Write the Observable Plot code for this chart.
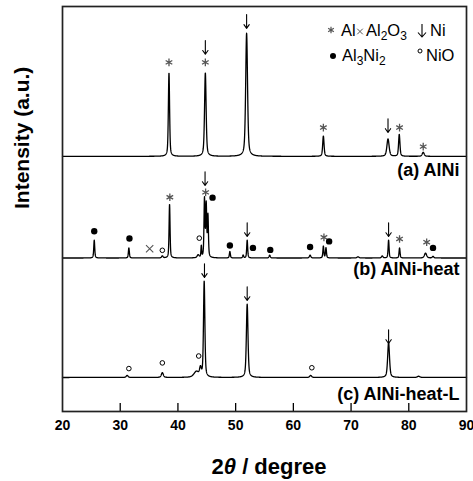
<!DOCTYPE html>
<html><head><meta charset="utf-8">
<script src="https://cdn.jsdelivr.net/npm/d3@7"></script>
<script src="https://cdn.jsdelivr.net/npm/@observablehq/plot@0.6"></script>
<style>
body{margin:0;background:#fff;}
svg text{font-family:"Liberation Sans",Arial,sans-serif;}
</style></head><body><div id="chart"></div>
<script>
// x ticks (2θ, degree)
const tickValues = [20, 30, 40, 50, 60, 70, 80, 90];
// pattern names, label levels and baselines (arbitrary intensity units)
const patternNames = ["(a) AlNi", "(b) AlNi-heat", "(c) AlNi-heat-L"];
const labelLevels = [59.5, 35.1, 4.2];
const baselines = [63.0, 37.9, 8.4];
// peaks: [2θ, height, FWHM]
const peaksA = [[38.45,20.6,0.25],[44.75,20.6,0.32],[51.9,30.4,0.38],[65.2,5.0,0.28],[76.4,4.3,0.45],[78.35,5.4,0.28],[82.5,1.0,0.4]];
const peaksB = [[25.5,4.4,0.2],[31.5,2.5,0.2],[37.3,0.5,0.3],[38.55,13.3,0.2],[43.5,0.7,0.4],[44.05,2.8,0.15],[44.6,14.3,0.2],[44.9,12.8,0.2],[45.2,10.2,0.2],[49.0,1.6,0.2],[51.3,0.7,0.2],[52.0,4.4,0.2],[55.9,0.7,0.25],[62.9,0.7,0.3],[65.2,2.9,0.2],[65.65,2.5,0.2],[71.2,0.3,0.4],[75.4,0.5,0.3],[76.5,4.4,0.2],[78.4,2.5,0.2],[82.9,1.2,0.45],[84.2,0.4,0.3]];
const peaksC = [[31.2,0.5,0.4],[37.3,1.2,0.4],[43.2,1.4,1.0],[43.9,2.0,0.35],[44.55,23.7,0.28],[52.0,18.1,0.33],[63.0,0.5,0.4],[76.5,8.6,0.38],[81.7,0.3,0.5]];
const peakSets = [peaksA, peaksB, peaksC];
// phase markers: [2θ, level]
const alMarks = [[38.45,86.2],[44.75,86.2],[65.2,70.1],[78.4,70.1],[82.5,65.4],
                 [38.6,52.9],[44.8,54.1],[65.3,43.0],[78.4,42.6],[83.1,41.8]];
const al2o3Marks = [[35.1,40.2]];
const niMarks = [[44.75,89.9],[51.9,96.3],[76.4,70.6],
                 [44.7,57.5],[52.0,44.9],[76.5,44.9],
                 [44.6,34.8],[52.0,29.1],[76.5,18.5]];
const al3ni2Marks = [[25.5,44.5],[31.6,42.7],[46.0,52.8],[49.0,41.0],[53.0,40.4],[56.0,39.9],[62.9,40.6],[66.2,42.0],[84.2,40.4]];
const nioMarks = [[37.3,39.8],[43.7,42.8],[31.5,10.6],[37.3,12.0],[43.6,13.7],[63.2,10.8]];

// profile rendering of each peak list (pseudo-Voigt shape)
const grid = d3.range(20, 90.0001, 0.02);
function profile(peaks, base) {
  return grid.map(x => {
    let y = base;
    for (const [c, h, w] of peaks) {
      const t = (x - c) / (w / 2);
      y += h * (0.5 / (1 + t * t) + 0.5 * Math.exp(-Math.LN2 * t * t));
    }
    return {x, y};
  });
}
const curves = peakSets.flatMap((p, i) => profile(p, baselines[i]).map(d => ({...d, s: i})));

const chart = Plot.plot({
  width: 473, height: 481,
  marginLeft: 62, marginRight: 7, marginTop: 6, marginBottom: 70,
  x: {domain: [20, 90]},
  y: {domain: [0, 100], axis: null},
  marks: [
    Plot.line(curves, {x: "x", y: "y", z: "s", stroke: "black", strokeWidth: 1.3}),
    Plot.dot(alMarks, {x: d => d[0], y: d => d[1], symbol: "asterisk", r: 3.6, stroke: "#555", strokeWidth: 1.3}),
    Plot.dot(al2o3Marks, {x: d => d[0], y: d => d[1], symbol: "times", r: 3.4, stroke: "#555", strokeWidth: 1.1}),
    Plot.dot(al3ni2Marks, {x: d => d[0], y: d => d[1], r: 3.2, fill: "black", stroke: null}),
    Plot.dot(nioMarks, {x: d => d[0], y: d => d[1], r: 2.3, fill: "white", stroke: "black", strokeWidth: 1}),
    Plot.arrow(niMarks, {x1: d => d[0], x2: d => d[0], y1: d => d[1] + 1.7, y2: d => d[1] - 1.7, headLength: 7, headAngle: 70, stroke: "black", strokeWidth: 1.1}),
    Plot.text(patternNames, {y: (d, i) => labelLevels[i], frameAnchor: "right", dx: -7, textAnchor: "end", fontSize: 18, fontWeight: "bold", fill: "black"}),
    Plot.text(["Intensity (a.u.)"], {frameAnchor: "left", dx: -40, rotate: -90, fontSize: 21, fontWeight: "bold", fill: "black"}),
    Plot.ruleX(tickValues.slice(1, -1), {insetTop: 397, stroke: "black", strokeWidth: 1.3}),
    Plot.axisX({ticks: tickValues, tickSize: 0, tickPadding: 9, fontSize: 14, fontWeight: "bold", label: null, tickFormat: d => d, fill: "black"}),
    Plot.frame({stroke: "#222", strokeWidth: 1.7})
  ]
});
document.getElementById("chart").appendChild(chart);

// x axis title and legend
const svg = d3.select(chart);
const xl = svg.append("text").attr("x", 269).attr("y", 474).attr("text-anchor", "middle")
  .attr("font-size", 22).attr("font-weight", "bold").attr("fill", "black");
xl.append("tspan").text("2");
xl.append("tspan").attr("font-style", "italic").text("θ");
xl.append("tspan").text(" / degree");

const lg = svg.append("g").attr("font-size", 16.5).attr("fill", "black").attr("text-anchor", "start");
lg.append("path").attr("transform", "translate(331,30)").attr("d", d3.symbol(d3.symbolAsterisk, 30)()).attr("stroke", "#555").attr("stroke-width", 1.2).attr("fill", "none");
lg.append("text").attr("x", 341).attr("y", 36).text("Al");
lg.append("path").attr("transform", "translate(360,31.5)").attr("d", d3.symbol(d3.symbolTimes, 22)()).attr("stroke", "#555").attr("stroke-width", 1).attr("fill", "none");
const t2 = lg.append("text").attr("x", 366).attr("y", 36);
t2.append("tspan").text("Al");
t2.append("tspan").attr("dy", 4).attr("font-size", 12).text("2");
t2.append("tspan").attr("dy", -4).text("O");
t2.append("tspan").attr("dy", 4).attr("font-size", 12).text("3");
lg.append("path").attr("d", "M422,24V37M418,32.5L422,37L426,32.5").attr("stroke", "black").attr("stroke-width", 1.1).attr("fill", "none");
lg.append("text").attr("x", 430).attr("y", 36).text("Ni");
lg.append("circle").attr("cx", 333).attr("cy", 56).attr("r", 3).attr("fill", "black");
const t3 = lg.append("text").attr("x", 342).attr("y", 61);
t3.append("tspan").text("Al");
t3.append("tspan").attr("dy", 4).attr("font-size", 12).text("3");
t3.append("tspan").attr("dy", -4).text("Ni");
t3.append("tspan").attr("dy", 4).attr("font-size", 12).text("2");
lg.append("circle").attr("cx", 420).attr("cy", 51).attr("r", 2).attr("fill", "white").attr("stroke", "black").attr("stroke-width", 1);
lg.append("text").attr("x", 426).attr("y", 61).text("NiO");
</script></body></html>
